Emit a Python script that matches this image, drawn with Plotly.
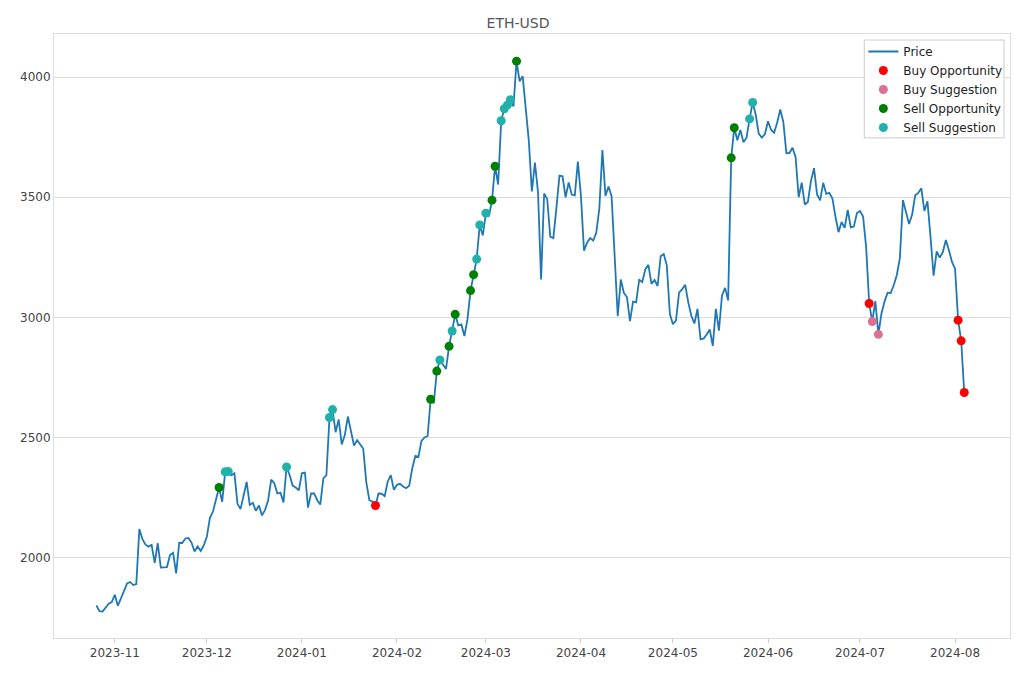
import pandas as pd
import plotly.graph_objects as go

start_date = "2023-10-26"
prices = [
    # Oct 26-31
    1802, 1779, 1777, 1796, 1810, 1816,
    # Nov
    1847, 1801, 1832, 1857, 1894, 1900, 1887, 1891, 2120, 2078, 2055, 2047, 2054, 1980, 2061,
    1960, 1961, 1962, 2012, 2021, 1936, 2063, 2062, 2081, 2083, 2064, 2027, 2048, 2029, 2052,
    # Dec
    2088, 2166, 2193, 2243, 2293, 2233, 2358, 2359, 2344, 2352, 2225, 2203, 2260, 2316, 2220,
    2229, 2196, 2218, 2177, 2200, 2240, 2326, 2311, 2268, 2272, 2231, 2378, 2345, 2301, 2293, 2281,
    # Jan
    2352, 2355, 2209, 2268, 2268, 2240, 2222, 2331, 2344, 2584, 2617, 2523, 2576, 2472, 2511,
    2588, 2529, 2467, 2490, 2470, 2455, 2315, 2240, 2235, 2218, 2268, 2267, 2257, 2318, 2344, 2283,
    # Feb
    2304, 2308, 2297, 2290, 2300, 2373, 2424, 2420, 2487, 2501, 2507, 2660, 2643, 2777, 2823,
    2803, 2786, 2880, 2944, 3013, 2967, 2971, 2923, 2992, 3112, 3178, 3243, 3385, 3341,
    # Mar
    3434, 3421, 3488, 3629, 3553, 3818, 3868, 3883, 3906, 3878, 4066, 3982, 4004, 3882, 3735,
    3524, 3644, 3521, 3158, 3516, 3492, 3336, 3330, 3455, 3590, 3587, 3500, 3562, 3511, 3508, 3648,
    # Apr
    3505, 3278, 3311, 3330, 3320, 3352, 3454, 3696, 3506, 3545, 3504, 3244, 3005, 3158, 3102,
    3085, 2985, 3066, 3063, 3157, 3148, 3200, 3219, 3140, 3156, 3131, 3255, 3264, 3217, 3014,
    # May
    2972, 2988, 3103, 3117, 3136, 3063, 3007, 2975, 3036, 2910, 2912, 2929, 2950, 2882, 3036,
    2945, 3092, 3123, 3071, 3664, 3789, 3737, 3780, 3729, 3748, 3826, 3894, 3843, 3764, 3748, 3763,
    # Jun
    3816, 3781, 3768, 3811, 3865, 3813, 3683, 3684, 3706, 3667, 3500, 3561, 3470, 3480, 3567,
    3621, 3512, 3487, 3560, 3514, 3518, 3495, 3419, 3355, 3397, 3373, 3447, 3375, 3378, 3434,
    # Jul
    3443, 3420, 3294, 3058, 2983, 3068, 2930, 3017, 3066, 3103, 3101, 3134, 3176, 3247, 3488,
    3444, 3389, 3428, 3508, 3518, 3537, 3443, 3483, 3335, 3174, 3275, 3249, 3271, 3322, 3280, 3231,
    # Aug 1-4
    3203, 2989, 2903, 2688,
]

buy_opportunity_dates = ["2024-01-25", "2024-07-04", "2024-08-02", "2024-08-03", "2024-08-04"]
buy_suggestion_dates = ["2024-07-05", "2024-07-07"]
sell_opportunity_dates = ["2023-12-05", "2024-02-12", "2024-02-14", "2024-02-18", "2024-02-20",
                          "2024-02-25", "2024-02-26", "2024-03-03", "2024-03-04", "2024-03-11",
                          "2024-05-20", "2024-05-21"]
sell_suggestion_dates = ["2023-12-07", "2023-12-08", "2023-12-27", "2024-01-10", "2024-01-11",
                         "2024-02-15", "2024-02-19", "2024-02-27", "2024-02-28", "2024-03-01",
                         "2024-03-06", "2024-03-07", "2024-03-08", "2024-03-09", "2024-05-26",
                         "2024-05-27"]

y_ticks = [2000, 2500, 3000, 3500, 4000]

dates = pd.date_range(start_date, periods=len(prices), freq="D")
series = pd.Series(prices, index=dates)


def pick(ds):
    idx = pd.to_datetime(ds)
    return idx, series.loc[idx].values


fig = go.Figure()
fig.add_trace(go.Scatter(x=dates, y=prices, mode="lines", name="Price",
                         line=dict(color="#1f77b4", width=1.8)))

for name, ds, color in [
    ("Buy Opportunity", buy_opportunity_dates, "#ff0000"),
    ("Buy Suggestion", buy_suggestion_dates, "#db7093"),
    ("Sell Opportunity", sell_opportunity_dates, "#008000"),
    ("Sell Suggestion", sell_suggestion_dates, "#20b2aa"),
]:
    x, y = pick(ds)
    fig.add_trace(go.Scatter(x=x, y=y, mode="markers", name=name,
                             marker=dict(color=color, size=9)))

# legend frame
fig.add_shape(type="rect", xref="paper", yref="paper",
              x0=0.8476, x1=0.9937, y0=0.828, y1=0.990,
              line=dict(color="#cccccc", width=1), fillcolor="rgba(255,255,255,0.85)",
              layer="above")

fig.update_layout(
    width=1020, height=680,
    margin=dict(l=44, r=18, t=26, b=50),
    paper_bgcolor="white", plot_bgcolor="white",
    font=dict(family="DejaVu Sans", size=12, color="#444"),
    title=dict(text="ETH-USD", x=0.5, xanchor="center", y=0.978, yanchor="middle",
               font=dict(size=14, color="#555")),
    legend=dict(x=0.8466, y=0.995, xanchor="left", yanchor="top",
                bgcolor="rgba(0,0,0,0)", borderwidth=0,
                font=dict(size=12, color="#222"), tracegroupgap=0),
    showlegend=True,
)
fig.update_xaxes(range=["2023-10-12 04:00", "2024-08-18 22:00"], showgrid=False,
                 dtick="M1", tickformat="%Y-%m", ticks="outside", ticklen=4,
                 tickcolor="#ccc", showline=True, linecolor="#ddd", mirror=True,
                 zeroline=False)
fig.update_yaxes(range=[1667, 4179], tickvals=y_ticks, showgrid=True, gridcolor="#ddd",
                 gridwidth=1, showline=True, linecolor="#ddd", mirror=True,
                 zeroline=False, ticks="", tickformat="d")

fig.write_html("out.html")
